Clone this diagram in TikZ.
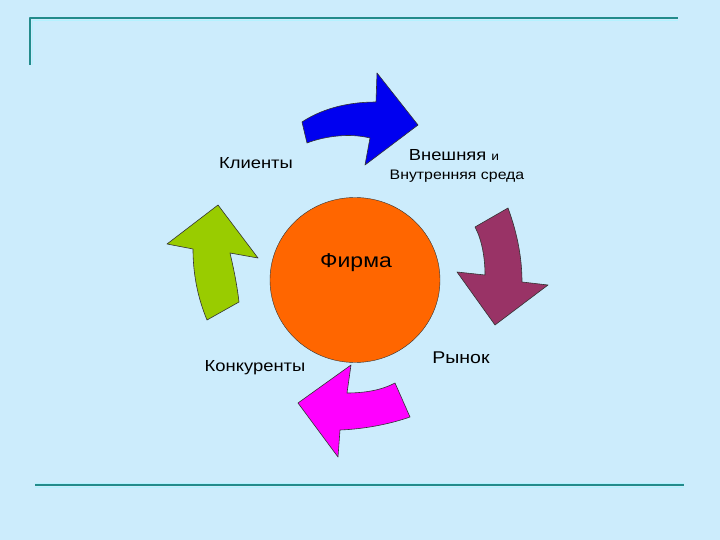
\documentclass[tikz,border=0pt]{standalone}
\usepackage{fontspec}
\setmainfont{Liberation Sans}[FakeStretch=1.15]
\usepackage{tikz}
\usetikzlibrary{shapes.geometric}
\definecolor{slide}{HTML}{CCECFC}
\definecolor{rule}{HTML}{238B8B}
\definecolor{ruleglow}{HTML}{B4F2FF}
\definecolor{firm}{HTML}{FF6600}
\definecolor{arblue}{HTML}{0000F0}
\definecolor{armaroon}{HTML}{993366}
\definecolor{armagenta}{HTML}{FF00FF}
\definecolor{argreen}{HTML}{99CC00}

\begin{document}
\begin{tikzpicture}[x=1pt,y=-1pt,line join=round,
  arw/.style={fill=#1,draw=black!80,line width=0.6pt},
  lbl/.style={inner sep=0pt,font=\fontsize{16}{18}\selectfont}]
\fill[slide] (0,0) rectangle (720,540);
\useasboundingbox (0,0) rectangle (720,540);
\draw[ruleglow,line width=1pt] (32,65) -- (32,20.5) -- (678,20.5);
\draw[ruleglow,line width=1pt] (35,483) -- (684,483) (35,487.5) -- (684,487.5);
\draw[rule,line width=2pt] (30,65) -- (30,18) -- (678,18);
\draw[rule,line width=2pt] (35,485) -- (684,485);
% centre
\node[ellipse,fill=firm,draw=black!80,minimum width=170pt,minimum height=165pt,inner sep=0pt] (firm) at (355,280) {};
\node[lbl,font=\fontsize{20}{22}\selectfont] (name) at (356,263) {Фирма};
% labels
\node[lbl] (client) at (256,163) {Клиенты};
\node[lbl] (env) at (454,155) {Внешняя {\fontsize{12}{14}\selectfont и}};
\node[lbl,font=\fontsize{13.8}{16}\selectfont] (env2) at (457,176) {Внутренняя среда};
\node[lbl] (rival) at (255,368) {Конкуренты};
\node[lbl,font=\fontsize{17}{19}\selectfont] (market) at (461,358) {Рынок};
% arrows
\draw[arw=arblue] (302,122) .. controls (320,110) and (345,102) .. (376,102) -- (377,73) -- (418,125)
   -- (365,165) -- (370,138) .. controls (350,133) and (325,136) .. (307,143) -- cycle;
\draw[arw=armaroon] (475,227) -- (508,208) .. controls (518,235) and (522,260) .. (522,282) -- (548,285)
   -- (495,325) -- (457,272) -- (485,275) .. controls (485,258) and (482,240) .. cycle;
\draw[arw=armagenta] (410,417) .. controls (390,424) and (365,429) .. (340,430) -- (338,457) -- (298,403)
   -- (351,365) -- (347,393) .. controls (365,393) and (382,390) .. (395,383) -- cycle;
\draw[arw=argreen] (207,320) .. controls (197,296) and (193,272) .. (193,249) -- (167,244) -- (218,205)
   -- (258,258) -- (230,253) .. controls (234,270) and (237,285) .. (239,302) -- cycle;
\end{tikzpicture}
\end{document}
